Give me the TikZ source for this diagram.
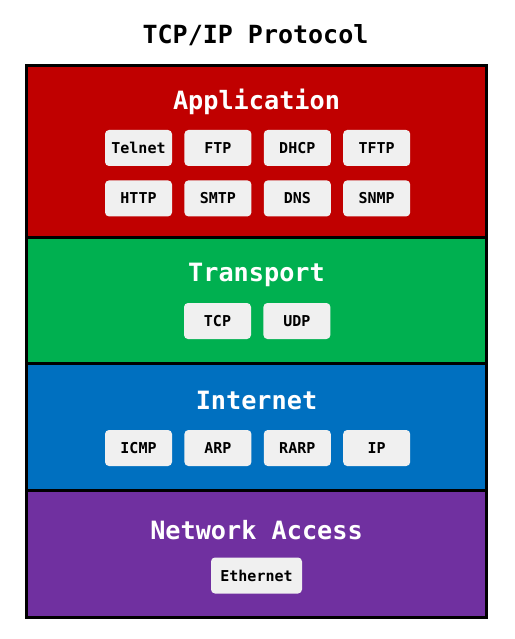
\documentclass[tikz,border=0pt]{standalone}
\usepackage{fontspec}
\setmonofont{DejaVu Sans Mono}
\usepackage{xcolor}
\usepackage{tikz}
\usetikzlibrary{positioning}

\definecolor{appred}{HTML}{C00000}
\definecolor{trgreen}{HTML}{00B050}
\definecolor{netblue}{HTML}{0070C0}
\definecolor{accpurple}{HTML}{7030A0}
\definecolor{protogray}{HTML}{F0F0F0}

\begin{document}
\begin{tikzpicture}[x=1pt,y=-1pt,node distance=12pt,
    layertitle/.style={anchor=base,text=white,font=\ttfamily\bfseries\fontsize{25.2}{28}\selectfont},
    proto/.style={fill=protogray,rounded corners=4pt,minimum width=67pt,minimum height=36pt,
        inner xsep=6pt,font=\ttfamily\bfseries\fontsize{15}{17}\selectfont}]
    \useasboundingbox (0,0) rectangle (514,639);

    % layers
    \fill[appred] (26.5,65.5) rectangle (486.5,237);
    \fill[trgreen] (26.5,237) rectangle (486.5,363.5);
    \fill[netblue] (26.5,363.5) rectangle (486.5,490.5);
    \fill[accpurple] (26.5,490.5) rectangle (486.5,617);
    \draw[line width=3pt] (26.5,237) -- (486.5,237)
        (26.5,363.5) -- (486.5,363.5)
        (26.5,490.5) -- (486.5,490.5);
    \draw[line width=3pt] (26.5,65.5) rectangle (486.5,617);

    \node[anchor=base,font=\ttfamily\bfseries\fontsize{25}{28}\selectfont] (title) at (255.5,44) {TCP/IP Protocol};

    % Application
    \node[layertitle] (app) at (256.5,110) {Application};
    \node[proto] (telnet) at (138.5,148) {Telnet};
    \node[proto] (ftp) [right=of telnet] {FTP};
    \node[proto] (dhcp) [right=of ftp] {DHCP};
    \node[proto] (tftp) [right=of dhcp] {TFTP};
    \node[proto] (http) [below=14pt of telnet] {HTTP};
    \node[proto] (smtp) [right=of http] {SMTP};
    \node[proto] (dns) [right=of smtp] {DNS};
    \node[proto] (snmp) [right=of dns] {SNMP};

    % Transport
    \node[layertitle] (transport) at (256.5,281) {Transport};
    \node[proto] (tcp) at (217.5,321) {TCP};
    \node[proto] (udp) [right=of tcp] {UDP};

    % Internet
    \node[layertitle] (internet) at (256.5,409.5) {Internet};
    \node[proto] (icmp) at (138.5,448) {ICMP};
    \node[proto] (arp) [right=of icmp] {ARP};
    \node[proto] (rarp) [right=of arp] {RARP};
    \node[proto] (ip) [right=of rarp] {IP};

    % Network Access
    \node[layertitle] (access) at (256.5,539.5) {Network Access};
    \node[proto,minimum width=91pt] (ethernet) at (256.5,575.5) {Ethernet};
\end{tikzpicture}
\end{document}
